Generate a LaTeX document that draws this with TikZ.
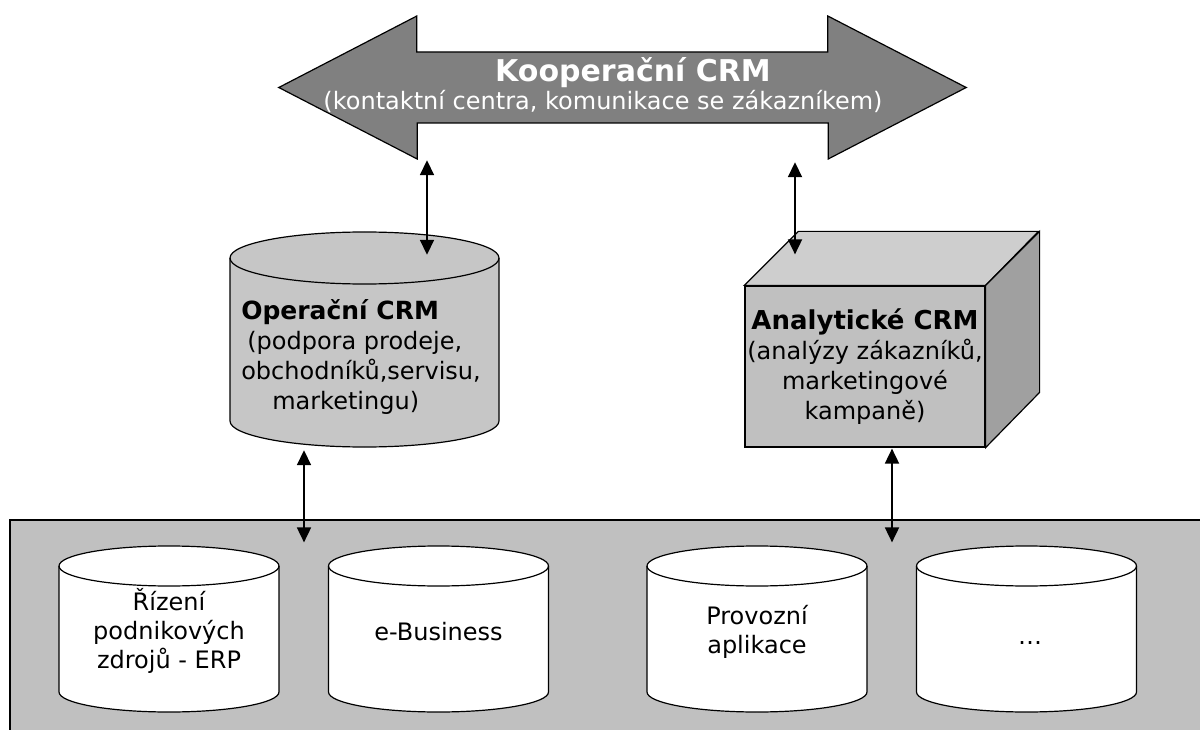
\documentclass[tikz,border=0pt]{standalone}
\usepackage{fontspec}
\setmainfont{DejaVu Sans}
\usetikzlibrary{arrows.meta}

\definecolor{arrowgray}{HTML}{808080}
\definecolor{panelgray}{HTML}{C0C0C0}
\definecolor{dbgray}{HTML}{C6C6C6}
\definecolor{lidgray}{HTML}{CECECE}
\definecolor{sidegray}{HTML}{A0A0A0}

\begin{document}
\begin{tikzpicture}[x=1pt, y=-1pt,
            txt/.style={inner sep=0pt, font=\fontsize{24}{30}\selectfont},
            dbtext/.style={inner sep=0pt, minimum width=220pt, minimum height=166pt,
                align=center, font=\fontsize{24}{29}\selectfont},
            outline/.style={draw, line width=1.2pt},
            link/.style={<->, >={Triangle[width=14pt,length=15pt]}, line width=1.8pt},
        ]
            \useasboundingbox (0,0) rectangle (1200,730);
            % panel with the source systems
            \node[outline, fill=panelgray, minimum width=1200pt,
                minimum height=220pt, inner sep=0pt] (panel) at (610,630) {};
            \foreach \cx in {169,438.5,757,1026.5} {
                \draw[outline, fill=white] (\cx-110,566) -- (\cx-110,692)
                    arc[start angle=180, end angle=360, x radius=110pt, y radius=20pt]
                    -- (\cx+110,566)
                    arc[start angle=0, end angle=180, x radius=110pt, y radius=20pt] -- cycle;
                \draw[outline] (\cx-110,566)
                    arc[start angle=180, end angle=360, x radius=110pt, y radius=20pt];
            }
            \node[dbtext] (erp) at (169,631) {Řízení\\podnikových\\zdrojů - ERP};
            \node[dbtext] (ebiz) at (438.5,632) {e-Business};
            \node[dbtext] (prov) at (757,632) {Provozní\\aplikace};
            \node[txt, anchor=base] (more) at (1030,644) {\ldots};
            % cooperative CRM arrow
            \node[inner sep=0pt, minimum width=687pt, minimum height=143pt] (kcrm) at (622.5,87.5) {};
            \draw[outline, fill=arrowgray] (kcrm.west) -- ++(138,-71.5) -- ++(0,36)
                -- ++(411,0) -- ++(0,-36) -- (kcrm.east) -- ++(-138,71.5) -- ++(0,-36)
                -- ++(-411,0) -- ++(0,36) -- cycle;
            \node[txt, anchor=base, text=white, font=\fontsize{30}{36}\selectfont\bfseries]
                (ktitle) at (633,82) {Kooperační CRM};
            \node[txt, anchor=base, text=white] (ksub) at (603,110)
                {(kontaktní centra, komunikace se zákazníkem)};
            % operational CRM
            \draw[outline, fill=dbgray] (230,258) -- (230,421)
                arc[start angle=180, end angle=360, x radius=134.5pt, y radius=26pt]
                -- (499,258)
                arc[start angle=0, end angle=180, x radius=134.5pt, y radius=26pt] -- cycle;
            \draw[outline] (230,258)
                arc[start angle=180, end angle=360, x radius=134.5pt, y radius=26pt];
            \node[txt, align=left, minimum width=269pt, minimum height=194pt] (opcrm) at (361,357)
                {{\fontsize{25}{30}\selectfont\bfseries Operační CRM}\\
                \hspace*{6pt}(podpora prodeje,\\obchodníků,servisu,\\\hspace*{31pt}marketingu)};
            % analytical CRM box
            \node[outline, fill=panelgray, minimum width=240pt,
                minimum height=161pt, inner sep=0pt, align=center,
                font=\fontsize{24}{30}\selectfont] (ancrm) at (865,366.5)
                {{\fontsize{26}{30}\selectfont\bfseries Analytické CRM}\\(analýzy zákazníků,\\marketingové\\kampaně)};
            \draw[outline, fill=lidgray] (ancrm.north west) -- ++(54,-54) -- ++(240,0)
                -- (ancrm.north east) -- cycle;
            \draw[outline, fill=sidegray] (ancrm.north east) -- ++(54,-54) -- ++(0,161)
                -- (ancrm.south east) -- cycle;
            \draw[link] ([xshift=-195.5pt,yshift=-1pt]kcrm.south) -- ([xshift=66pt,yshift=5pt]opcrm.north);
            \draw[link] ([xshift=172.5pt,yshift=-3pt]kcrm.south) -- ([xshift=-70pt,yshift=31pt]ancrm.north);
            \draw[link] ([xshift=-57pt,yshift=4pt]opcrm.south) -- ([xshift=-306pt,yshift=-23pt]panel.north);
            \draw[link] ([xshift=27pt,yshift=-1pt]ancrm.south) -- ([xshift=282pt,yshift=-23pt]panel.north);
        \end{tikzpicture}
\end{document}
